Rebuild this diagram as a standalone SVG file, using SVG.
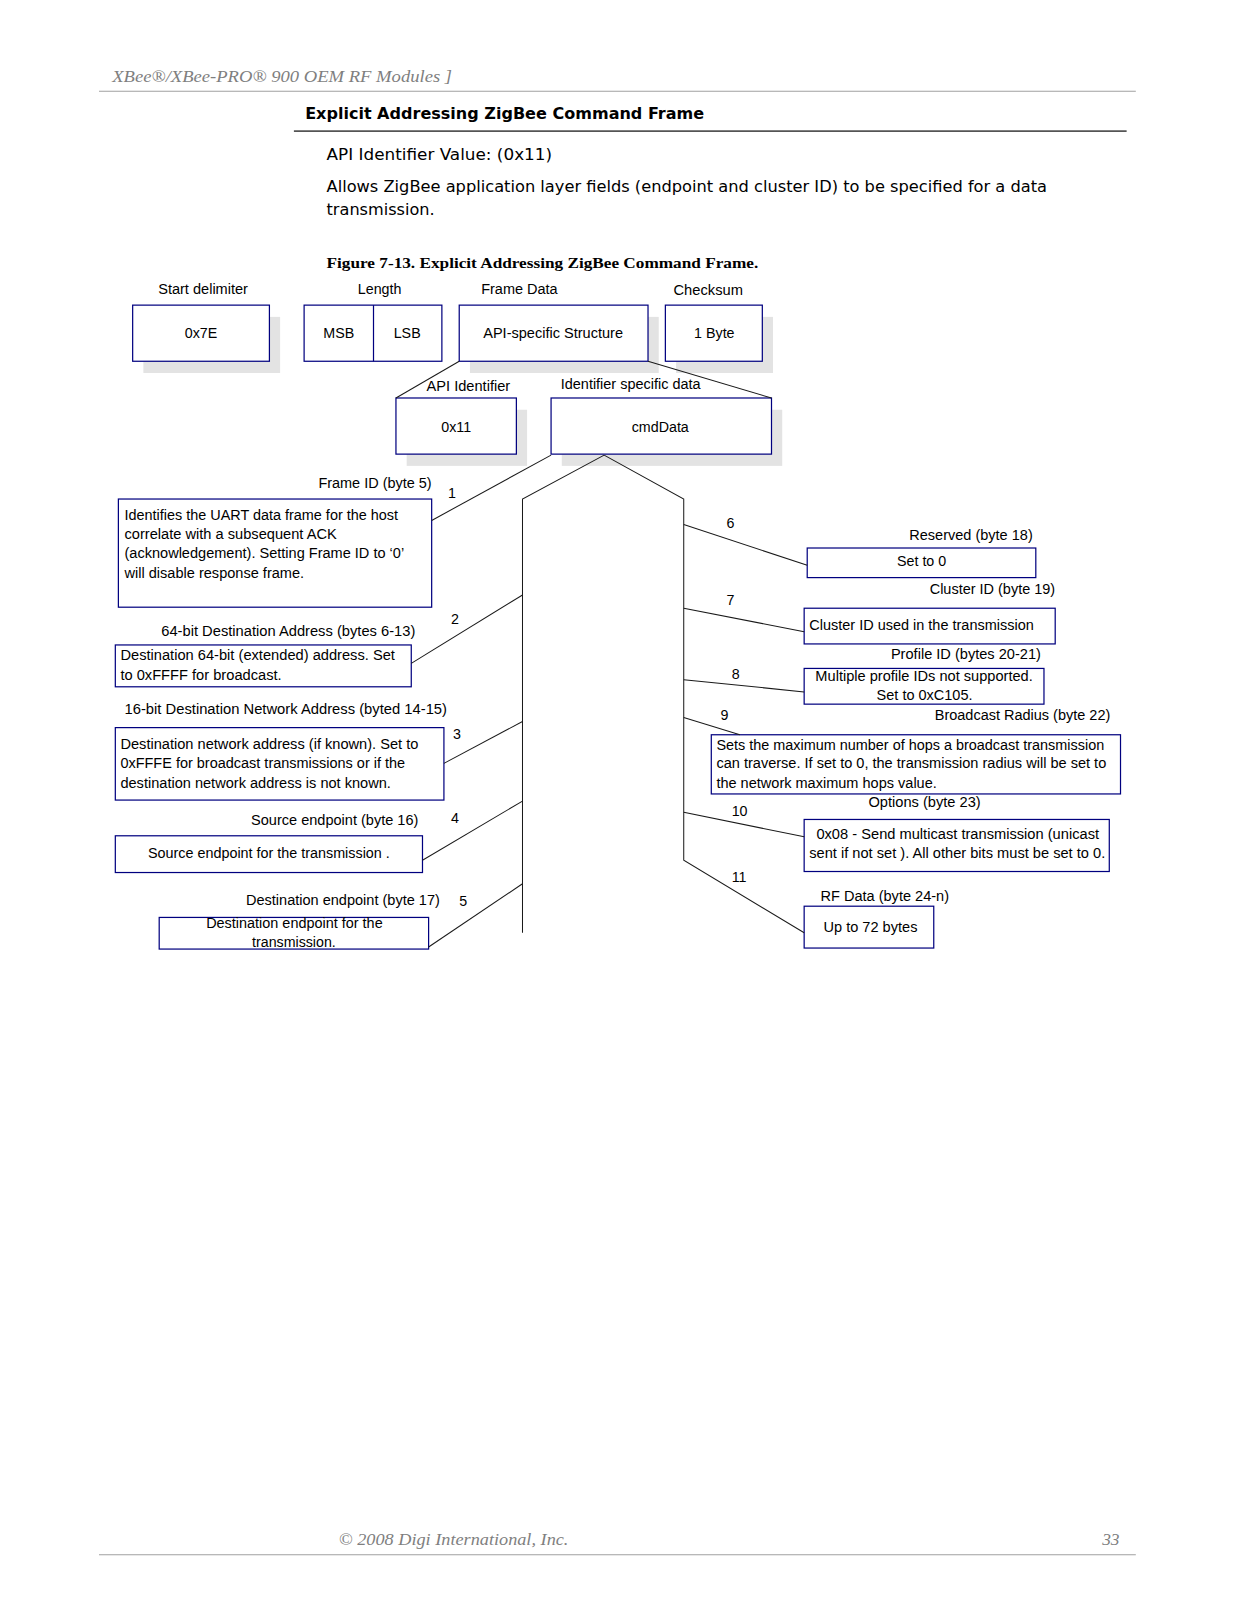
<svg xmlns="http://www.w3.org/2000/svg" width="1237" height="1600" viewBox="0 0 1237 1600">
<style>
.bg{fill:#fff}
.box{fill:#fff;stroke:#00007f;stroke-width:1.2}
.sh{fill:#e3e3e3}
.ln{stroke:#1a1a1a;stroke-width:1;fill:none}
.rule{stroke:#a0a0a0;stroke-width:1}
.t{font-family:"Liberation Sans",Arial,sans-serif;font-size:14px;fill:#000}
.m{text-anchor:middle}
.body{font-family:"DejaVu Sans",Verdana,sans-serif;font-size:16px;fill:#000}
.hd{font-family:"DejaVu Sans",Verdana,sans-serif;font-size:16px;font-weight:bold;fill:#000}
.cap{font-family:"Liberation Serif","Times New Roman",serif;font-size:15px;font-weight:bold;fill:#000}
.it{font-family:"Liberation Serif","Times New Roman",serif;font-style:italic;fill:#7f7f7f}
</style>
<rect class="bg" x="0" y="0" width="1237" height="1600"/>
<g id="page" transform="scale(1.0205)">

<g id="page-header">
<text class="it" x="110" y="80" font-size="16" textLength="333" lengthAdjust="spacingAndGlyphs">XBee®/XBee-PRO® 900  OEM RF Modules ]</text>
<line class="rule" x1="97" y1="89.5" x2="1113" y2="89.5"/>
<text class="hd" x="299" y="117" textLength="391" lengthAdjust="spacingAndGlyphs">Explicit Addressing ZigBee Command Frame</text>
<line x1="288" y1="128.5" x2="1104" y2="128.5" stroke="#555" stroke-width="1.5"/>
<text class="body" x="320" y="157" textLength="221" lengthAdjust="spacingAndGlyphs">API Identifier Value: (0x11)</text>
<text class="body" x="320" y="188" textLength="706" lengthAdjust="spacingAndGlyphs">Allows ZigBee application layer fields (endpoint and cluster ID) to be specified for a data</text>
<text class="body" x="320" y="211" textLength="106" lengthAdjust="spacingAndGlyphs">transmission.</text>
<text class="cap" x="320" y="263" textLength="423" lengthAdjust="spacingAndGlyphs">Figure 7-13.  Explicit Addressing ZigBee Command Frame.</text>
</g>

<g id="start-delimiter">
<text class="t m" x="199" y="288" textLength="88" lengthAdjust="spacingAndGlyphs">Start delimiter</text>
<rect class="sh" x="140.5" y="310.5" width="134" height="55"/>
<rect class="box" x="130" y="299" width="134" height="55"/>
<text class="t m" x="197" y="331">0x7E</text>
</g>

<g id="length">
<text class="t m" x="372" y="288">Length</text>
<rect class="box" x="298" y="299" width="135" height="55"/>
<line x1="366" y1="299" x2="366" y2="354" stroke="#00007f" stroke-width="1.2"/>
<text class="t m" x="332" y="331">MSB</text>
<text class="t m" x="399" y="331">LSB</text>
</g>

<g id="frame-data">
<text class="t m" x="509" y="288" textLength="75" lengthAdjust="spacingAndGlyphs">Frame Data</text>
<rect class="sh" x="460.5" y="310.5" width="185" height="55"/>
<rect class="box" x="450" y="299" width="185" height="55"/>
<text class="t m" x="542" y="331" textLength="137" lengthAdjust="spacingAndGlyphs">API-specific Structure</text>
</g>

<g id="checksum">
<text class="t m" x="694" y="289" textLength="68" lengthAdjust="spacingAndGlyphs">Checksum</text>
<rect class="sh" x="662.5" y="310.5" width="95" height="55"/>
<rect class="box" x="652" y="299" width="95" height="55"/>
<text class="t m" x="700" y="331">1 Byte</text>
</g>

<g id="api-identifier">
<text class="t m" x="459" y="383" textLength="82" lengthAdjust="spacingAndGlyphs">API Identifier</text>
<rect class="sh" x="398.5" y="401.5" width="118" height="55"/>
<rect class="box" x="388" y="390" width="118" height="55"/>
<text class="t m" x="447" y="423">0x11</text>
</g>

<g id="cmd-data">
<text class="t m" x="618" y="381" textLength="137" lengthAdjust="spacingAndGlyphs">Identifier specific data</text>
<rect class="sh" x="550.5" y="401.5" width="216" height="55"/>
<rect class="box" x="540" y="390" width="216" height="55"/>
<text class="t m" x="647" y="423">cmdData</text>
</g>

<g id="frame-id">
<text class="t" x="312" y="478" textLength="111" lengthAdjust="spacingAndGlyphs">Frame ID (byte 5)</text>
<text class="t" x="439" y="488">1</text>
<rect class="box" x="116" y="489" width="307" height="106"/>
<text class="t" x="122" y="510" textLength="268" lengthAdjust="spacingAndGlyphs">Identifies the UART data frame for the host</text>
<text class="t" x="122" y="528" textLength="208" lengthAdjust="spacingAndGlyphs">correlate with a subsequent ACK</text>
<text class="t" x="122" y="547" textLength="274" lengthAdjust="spacingAndGlyphs">(acknowledgement). Setting Frame ID to ‘0’</text>
<text class="t" x="122" y="566" textLength="176" lengthAdjust="spacingAndGlyphs">will disable response frame.</text>
</g>

<g id="dest64">
<text class="t" x="442" y="611">2</text>
<text class="t" x="158" y="623" textLength="249" lengthAdjust="spacingAndGlyphs">64-bit Destination Address (bytes 6-13)</text>
<rect class="box" x="113" y="632" width="290" height="41"/>
<text class="t" x="118" y="647" textLength="269" lengthAdjust="spacingAndGlyphs">Destination 64-bit (extended) address. Set</text>
<text class="t" x="118" y="666" textLength="158" lengthAdjust="spacingAndGlyphs">to 0xFFFF for broadcast.</text>
</g>

<g id="dest16">
<text class="t" x="122" y="700" textLength="316" lengthAdjust="spacingAndGlyphs">16-bit Destination Network  Address (byted 14-15)</text>
<text class="t" x="444" y="724">3</text>
<rect class="box" x="113" y="713" width="322" height="71"/>
<text class="t" x="118" y="734" textLength="292" lengthAdjust="spacingAndGlyphs">Destination network address (if known). Set to</text>
<text class="t" x="118" y="753" textLength="279" lengthAdjust="spacingAndGlyphs">0xFFFE for broadcast transmissions or if the</text>
<text class="t" x="118" y="772" textLength="265" lengthAdjust="spacingAndGlyphs">destination network address is not known.</text>
</g>

<g id="source-endpoint">
<text class="t" x="246" y="808" textLength="164" lengthAdjust="spacingAndGlyphs">Source endpoint (byte 16)</text>
<text class="t" x="442" y="806">4</text>
<rect class="box" x="113" y="819" width="301" height="36"/>
<text class="t" x="145" y="841" textLength="237" lengthAdjust="spacingAndGlyphs">Source endpoint for the transmission .</text>
</g>

<g id="dest-endpoint">
<text class="t" x="241" y="887" textLength="190" lengthAdjust="spacingAndGlyphs">Destination endpoint (byte 17)</text>
<text class="t" x="450" y="888">5</text>
<rect class="box" x="156" y="899" width="264" height="31"/>
<text class="t" x="202" y="909" textLength="173" lengthAdjust="spacingAndGlyphs">Destination endpoint for the</text>
<text class="t" x="247" y="928" textLength="82" lengthAdjust="spacingAndGlyphs">transmission.</text>
</g>

<g id="reserved">
<text class="t" x="712" y="517">6</text>
<text class="t" x="891" y="529" textLength="121" lengthAdjust="spacingAndGlyphs">Reserved (byte 18)</text>
<rect class="box" x="791" y="537" width="224" height="29"/>
<text class="t" x="879" y="555">Set to 0</text>
</g>

<g id="cluster-id">
<text class="t" x="911" y="582" textLength="123" lengthAdjust="spacingAndGlyphs">Cluster ID  (byte 19)</text>
<text class="t" x="712" y="593">7</text>
<rect class="box" x="788" y="596" width="246" height="35"/>
<text class="t" x="793" y="617" textLength="220" lengthAdjust="spacingAndGlyphs">Cluster ID used in the transmission</text>
</g>

<g id="profile-id">
<text class="t" x="873" y="646" textLength="147" lengthAdjust="spacingAndGlyphs">Profile ID (bytes 20-21)</text>
<text class="t" x="717" y="665">8</text>
<rect class="box" x="788" y="655" width="235" height="35"/>
<text class="t" x="799" y="667" textLength="213" lengthAdjust="spacingAndGlyphs">Multiple profile IDs not supported.</text>
<text class="t" x="859" y="686" textLength="94" lengthAdjust="spacingAndGlyphs">Set to 0xC105.</text>
</g>

<g id="broadcast-radius">
<text class="t" x="706" y="706">9</text>
<text class="t" x="916" y="706" textLength="172" lengthAdjust="spacingAndGlyphs">Broadcast Radius (byte 22)</text>
<rect class="box" x="697" y="720" width="401" height="58"/>
<text class="t" x="702" y="735" textLength="380" lengthAdjust="spacingAndGlyphs">Sets the maximum number of hops a broadcast transmission</text>
<text class="t" x="702" y="753" textLength="382" lengthAdjust="spacingAndGlyphs">can traverse. If set to  0, the transmission radius will be set to</text>
<text class="t" x="702" y="772" textLength="216" lengthAdjust="spacingAndGlyphs">the network maximum hops value.</text>
</g>

<g id="options">
<text class="t" x="851" y="791" textLength="110" lengthAdjust="spacingAndGlyphs">Options (byte 23)</text>
<text class="t" x="717" y="800">10</text>
<rect class="box" x="788" y="803" width="299" height="51"/>
<text class="t" x="800" y="822" textLength="277" lengthAdjust="spacingAndGlyphs">0x08 - Send multicast transmission (unicast</text>
<text class="t" x="793" y="841" textLength="290" lengthAdjust="spacingAndGlyphs">sent if not set ).  All other bits must be set to  0.</text>
</g>

<g id="rf-data">
<text class="t" x="717" y="864">11</text>
<text class="t" x="804" y="883" textLength="126" lengthAdjust="spacingAndGlyphs">RF Data (byte 24-n)</text>
<rect class="box" x="788" y="888" width="127" height="41"/>
<text class="t" x="807" y="913" textLength="92" lengthAdjust="spacingAndGlyphs">Up to 72 bytes</text>
</g>

<g id="connectors">
<line class="ln" x1="450" y1="354" x2="388" y2="390"/>
<line class="ln" x1="635" y1="354" x2="756" y2="390"/>
<line class="ln" x1="540" y1="446" x2="423" y2="510"/>
<polyline class="ln" points="592,446 512,489 512,914"/>
<polyline class="ln" points="592,446 670,489 670,843 788,914"/>
<line class="ln" x1="512" y1="583" x2="403" y2="650"/>
<line class="ln" x1="512" y1="707" x2="435" y2="748"/>
<line class="ln" x1="512" y1="785" x2="414" y2="843"/>
<line class="ln" x1="512" y1="866" x2="420" y2="928"/>
<line class="ln" x1="670" y1="514" x2="791" y2="554"/>
<line class="ln" x1="670" y1="596" x2="788" y2="619"/>
<line class="ln" x1="670" y1="666" x2="788" y2="678"/>
<line class="ln" x1="670" y1="703" x2="725" y2="720"/>
<line class="ln" x1="670" y1="796" x2="788" y2="820"/>
</g>

<g id="page-footer">
<text class="it" x="332" y="1514" font-size="17" textLength="225" lengthAdjust="spacingAndGlyphs">© 2008 Digi International, Inc.</text>
<text class="it" x="1097" y="1514" font-size="17" text-anchor="end">33</text>
<line class="rule" x1="97" y1="1523.5" x2="1113" y2="1523.5"/>
</g>
</g>
</svg>
